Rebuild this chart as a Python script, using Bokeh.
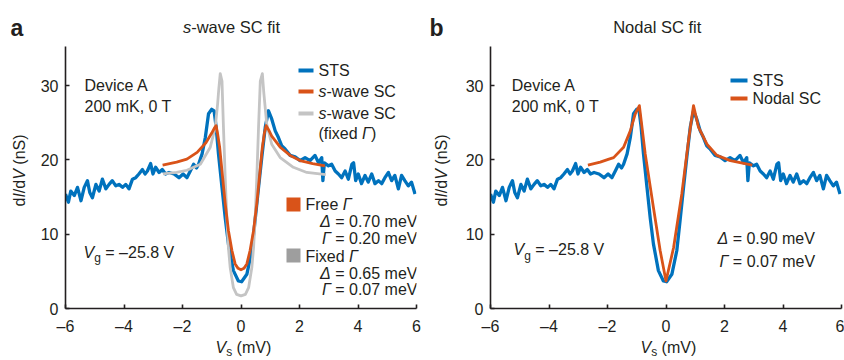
import math
from bokeh.plotting import figure
from bokeh.layouts import row, column
from bokeh.models import Label, FixedTicker
from bokeh.embed import file_html
from bokeh.resources import INLINE

# ---------------- data ----------------
sts_v = [-6.0, -5.9, -5.82, -5.7, -5.59, -5.47, -5.36, -5.25, -5.17, -5.08, -4.96, -4.85, -4.74, -4.62,
         -4.51, -4.4, -4.28, -4.17, -4.05, -3.94, -3.83, -3.71, -3.6, -3.49, -3.37, -3.28, -3.2, -3.09,
         -3.01, -2.92, -2.8, -2.69, -2.58, -2.46, -2.29, -2.12,
         -1.98, -1.85, -1.72, -1.62, -1.52, -1.45, -1.33, -1.22, -1.11, -1.0, -0.92, -0.85, -0.77, -0.65,
         -0.54, -0.43, -0.26, -0.09, 0.02, 0.2, 0.37, 0.48, 0.6, 0.71, 0.83, 0.94, 1.05, 1.17, 1.28, 1.39,
         1.5, 1.68, 1.85, 2.02,
         2.19, 2.36, 2.53, 2.65, 2.76, 2.8, 2.85, 2.99, 3.1, 3.22, 3.33, 3.44, 3.56, 3.67, 3.79, 3.85,
         3.92, 4.01, 4.12, 4.24, 4.35, 4.47, 4.58, 4.7, 4.81, 4.92, 5.04, 5.15, 5.26, 5.38, 5.49, 5.6,
         5.72, 5.83, 5.95]
sts_g = [15.4, 14.3, 15.8, 15.2, 16.3, 14.5, 16.3, 17.2, 15.6, 14.9, 16.7, 15.8, 17.4, 16.1,
         16.7, 17.2, 16.5, 16.7, 16.3, 16.7, 16.1, 17.4, 17.6, 18.1, 18.7, 18.1, 18.5, 19.5,
         18.1, 19.0, 18.3, 18.7, 18.1, 18.3, 18.1, 17.6,
         18.1, 17.6, 18.6, 19.4, 18.9, 19.4, 20.8, 23.0, 26.2, 26.8, 26.6, 24.4, 20.8, 16.3,
         12.2, 8.7, 5.1, 3.7, 3.6, 4.6, 7.8, 11.8, 16.3, 20.3, 24.4, 26.6, 25.5, 23.9, 23.0, 21.9,
         21.5, 20.6, 20.4, 19.9,
         20.3, 19.9, 20.6, 19.6, 20.3, 17.2, 19.6, 19.2, 19.4, 18.5, 18.1, 17.6, 18.5, 17.4, 19.4, 19.6,
         17.2, 18.1, 16.8, 17.9, 17.0, 18.1, 16.8, 17.2, 16.8, 17.6, 18.3, 17.2, 17.9, 16.1, 17.9, 17.2,
         16.5, 17.0, 15.4]

swave_v = [-2.68, -2.2, -1.85, -1.5, -1.2, -1.0, -0.92, -0.85, -0.8, -0.73, -0.65, -0.54, -0.43, -0.31,
           -0.2, -0.1, 0.0, 0.1, 0.2, 0.31, 0.43, 0.54, 0.65, 0.73, 0.8, 0.86, 0.95, 1.05, 1.34, 1.68,
           2.02, 2.45, 2.87]
swave_g = [19.3, 19.7, 20.1, 21.0, 22.3, 23.6, 24.2, 24.6, 23.5, 21.7, 18.5, 14.1, 10.5, 7.8,
           6.0, 5.4, 5.2, 5.4, 6.0, 7.8, 10.5, 14.1, 18.5, 21.7, 23.6, 24.6, 24.0, 23.2, 21.7, 20.6,
           19.9, 19.5, 19.2]

fixed_v = [-2.67, -2.2, -1.85, -1.39, -1.05, -0.88, -0.8, -0.76, -0.71, -0.65, -0.6, -0.54, -0.48, -0.43,
           -0.37, -0.26, -0.15, 0.0, 0.15, 0.26, 0.37, 0.43, 0.48, 0.54, 0.6, 0.66, 0.73, 0.78, 0.88,
           1.05, 1.34, 1.79, 2.25, 2.9]
fixed_g = [18.1, 18.3, 18.6, 19.4, 21.7, 24.4, 27.5, 29.5, 31.6, 30.6, 24.4, 17.6, 11.8, 8.2,
           5.5, 2.8, 1.9, 1.7, 1.9, 2.8, 5.5, 8.2, 11.8, 17.6, 24.4, 30.6, 31.6, 29.0, 24.8,
           22.1, 20.3, 19.0, 18.3, 18.0]

nodal_v = [-2.67, -2.25, -1.95, -1.79, -1.45, -1.22, -1.05, -0.91, -0.71, -0.43, -0.2, 0.0, 0.26,
           0.54, 0.77, 0.94, 1.11, 1.4, 1.74, 2.2, 2.95]
nodal_g = [19.3, 19.7, 20.1, 20.3, 21.7, 23.9, 26.2, 27.3, 20.8, 13.6, 7.8, 3.7, 8.2,
           15.4, 22.6, 27.3, 24.4, 22.1, 20.6, 19.9, 19.3]

x_ticks = [-6, -4, -2, 0, 2, 4, 6]
x_tick_labels = ["–6", "–4", "–2", "0", "2", "4", "6"]
y_ticks = [0, 10, 20, 30]

# ---------------- style ----------------
FONT = "Liberation Sans"
INK = "#231f20"
BLUE = "#0072bd"
ORANGE = "#d95319"
GRAY = "#c4c4c4"
GRAY_SW = "#9e9e9e"
FS = 16
TFS = 16.5

TOP_H = 46          # strip above the frame
FRAME_H = 262
MAIN_BOTTOM = 30    # room for the x tick labels
BOT_H = 360 - TOP_H - FRAME_H - MAIN_BOTTOM
FRAME_W = 351
MAIN_LEFT = 35      # room for the y tick labels
YMAX = 35.25

W = {' ': 278, '(': 333, ')': 333, ',': 278, '-': 333, '.': 278, '/': 278, '=': 584, '–': 556,
     'A': 667, 'C': 722, 'D': 722, 'F': 611, 'I': 278, 'K': 667, 'N': 722, 'S': 667, 'T': 611,
     'V': 667, 'a': 556, 'b': 556, 'c': 500, 'd': 556, 'e': 556, 'f': 278, 'g': 556, 'i': 222,
     'k': 500, 'l': 222, 'm': 833, 'n': 556, 'o': 556, 'r': 333, 's': 500, 't': 278, 'v': 500,
     'w': 722, 'x': 500, 'Γ': 556, 'Δ': 668}


def tw(s, size):
    return sum(W.get(c, 556) for c in s) * size / 1000.0


def strip(w, h):
    p = figure(width=w, height=h, x_range=(0, w), y_range=(0, h),
               min_border_left=0, min_border_right=0, min_border_top=0, min_border_bottom=0,
               x_axis_type=None, y_axis_type=None, output_backend="svg",
               toolbar_location=None, outline_line_color=None, border_fill_color="white",
               background_fill_color="white")
    return p


def main_fig(w):
    p = figure(width=w, height=FRAME_H + MAIN_BOTTOM, x_range=(-6, 6), y_range=(0, YMAX),
               min_border_left=MAIN_LEFT, min_border_right=w - MAIN_LEFT - FRAME_W,
               min_border_top=0, min_border_bottom=MAIN_BOTTOM,
               output_backend="svg", toolbar_location=None, outline_line_color=None,
               background_fill_color=None, border_fill_color="white")
    p.xgrid.visible = False
    p.ygrid.visible = False
    for ax in (p.xaxis[0], p.yaxis[0]):
        ax.axis_line_width = 1.6
        ax.axis_line_color = INK
        ax.major_tick_line_color = INK
        ax.major_tick_line_width = 1.6
        ax.major_tick_in = 4
        ax.major_tick_out = 0
        ax.minor_tick_line_color = None
        ax.major_label_text_font = FONT
        ax.major_label_text_font_size = f"{FS}px"
        ax.major_label_text_color = INK
    p.xaxis.ticker = FixedTicker(ticks=x_ticks)
    p.xaxis.major_label_overrides = dict(zip(x_ticks, x_tick_labels))
    p.xaxis.major_label_standoff = 9
    p.yaxis.ticker = FixedTicker(ticks=y_ticks)
    p.yaxis.major_label_standoff = 7
    return p


class Panel:
    """Holds a figure and its page-pixel origin."""
    def __init__(self, p, ox, oy):
        self.p, self.ox, self.oy = p, ox, oy


def lab(f, px, py, t, s, st, baseline="middle", angle=0.0):
    f.p.add_layout(Label(x=px - f.ox, y=py - f.oy, x_units="canvas", y_units="canvas", text=t,
                         text_font=FONT, text_font_size=f"{s}px", text_font_style=st,
                         text_color=INK, text_align="left", text_baseline=baseline, angle=angle))


def runs(f, px, py, items, align="left", baseline="middle"):
    """items: list of (text, size, style, dy); px, py in page pixels (top-left origin)"""
    total = sum(tw(t, s) for t, s, st, dy in items)
    if align == "right":
        px = px - total
    elif align == "center":
        px = px - total / 2.0
    x = px
    for t, s, st, dy in items:
        lead = len(t) - len(t.lstrip(" "))
        if t.strip():
            lab(f, x + tw(" " * lead, s), py + dy, t.strip(" "), s, st, baseline)
        x += tw(t, s)


def vrun(f, px, py_bottom, items):
    y = py_bottom
    for t, s, st in items:
        lead = len(t) - len(t.lstrip(" "))
        lab(f, px, y - tw(" " * lead, s), t.strip(" "), s, st, "middle", math.pi / 2)
        y -= tw(t, s)


def to_data(f, px, py):
    fl = f.ox + MAIN_LEFT
    return (-6 + (px - fl) * 12.0 / FRAME_W, (TOP_H + FRAME_H - py) * YMAX / FRAME_H)


def seg(f, px0, px1, py, color, w):
    x0, y0 = to_data(f, px0, py)
    x1, _ = to_data(f, px1, py)
    f.p.segment(x0=[x0], y0=[y0], x1=[x1], y1=[y0], line_color=color, line_width=w)


def swatch(f, px, py, color):
    x, y = to_data(f, px, py)
    f.p.scatter(x=[x], y=[y], marker="square", size=14, fill_color=color, line_color=None)


YLAB = [("d", FS, "normal"), ("I", FS, "italic"), ("/d", FS, "normal"),
        ("V", FS, "italic"), (" (nS)", FS, "normal")]
XLAB = [("V", FS, "italic", 0), ("s", 12, "normal", 4.5), (" (mV)", FS, "normal", 0)]
VG = [("V", FS, "italic", 0), ("g", 12, "normal", 6), (" = –25.8 V", FS, "normal", 0)]


def build_panel(x0, left_w, letter, title_items, title_cx):
    rest_w = 422 - left_w
    ls = Panel(strip(left_w, 360), x0, 0)
    ts = Panel(strip(rest_w, TOP_H), x0 + left_w, 0)
    mf = Panel(main_fig(rest_w), x0 + left_w, TOP_H)
    bs = Panel(strip(rest_w, BOT_H), x0 + left_w, TOP_H + FRAME_H + MAIN_BOTTOM)
    runs(ls, x0 + 10 - (3 if letter == "b" else 0), 27, [(letter, 23, "bold", 0)], baseline="alphabetic")
    vrun(ls, x0 + 19, 206, YLAB)
    runs(ts, title_cx, 26.5, title_items, align="center")
    runs(bs, x0 + left_w + MAIN_LEFT + FRAME_W / 2.0 - 25.5, 346.5, XLAB)
    lay = row(ls.p, column(ts.p, mf.p, bs.p, spacing=0), spacing=0)
    return mf, lay


# ---------------- panel a ----------------
fa, lay_a = build_panel(0, 30, "a", [("s", TFS, "italic", 0), ("-wave SC fit", TFS, "normal", 0)], 231)
pa = fa.p
pa.line(sts_v, sts_g, line_color=BLUE, line_width=3.3, line_join="round")
pa.line(fixed_v, fixed_g, line_color=GRAY, line_width=2.8, line_join="round")
pa.line(swave_v, swave_g, line_color=ORANGE, line_width=2.8, line_join="round")

runs(fa, 84, 84.7, [("Device A", FS, "normal", 0)])
runs(fa, 84, 106, [("200 mK, 0 T", FS, "normal", 0)])
runs(fa, 83, 251.5, VG)

seg(fa, 298, 313, 70, BLUE, 4)
runs(fa, 318, 70, [("STS", FS, "normal", 0)])
seg(fa, 298, 313, 91, ORANGE, 4)
runs(fa, 318, 91, [("s", FS, "italic", 0), ("-wave SC", FS, "normal", 0)])
seg(fa, 298, 313, 113, GRAY, 4)
runs(fa, 318, 113, [("s", FS, "italic", 0), ("-wave SC", FS, "normal", 0)])
runs(fa, 318, 133, [("(fixed ", FS, "normal", 0), ("Γ", FS, "italic", 0), (")", FS, "normal", 0)])

swatch(fa, 293, 204, ORANGE)
runs(fa, 305, 204, [("Free ", FS, "normal", 0), ("Γ", FS, "italic", 0)])
runs(fa, 417, 220.5, [("Δ", FS, "italic", 0), (" = 0.70 meV", FS, "normal", 0)], align="right")
runs(fa, 417, 238.3, [("Γ", FS, "italic", 0), (" = 0.20 meV", FS, "normal", 0)], align="right")
swatch(fa, 293, 255, GRAY_SW)
runs(fa, 305, 256, [("Fixed ", FS, "normal", 0), ("Γ", FS, "italic", 0)])
runs(fa, 417, 273, [("Δ", FS, "italic", 0), (" = 0.65 meV", FS, "normal", 0)], align="right")
runs(fa, 417, 289, [("Γ", FS, "italic", 0), (" = 0.07 meV", FS, "normal", 0)], align="right")

# ---------------- panel b ----------------
fb, lay_b = build_panel(422, 33, "b", [("Nodal SC fit", TFS, "normal", 0)], 656.7)
pb = fb.p
pb.line(sts_v, sts_g, line_color=BLUE, line_width=3.3, line_join="round")
pb.line(nodal_v, nodal_g, line_color=ORANGE, line_width=2.8, line_join="round")

runs(fb, 511.3, 84.7, [("Device A", FS, "normal", 0)])
runs(fb, 511.3, 106, [("200 mK, 0 T", FS, "normal", 0)])
runs(fb, 513, 249.3, VG)
runs(fb, 717, 237.5, [("Δ", FS, "italic", 0), (" = 0.90 meV", FS, "normal", 0)])
runs(fb, 719, 260.5, [("Γ", FS, "italic", 0), (" = 0.07 meV", FS, "normal", 0)])

seg(fb, 730, 747, 80, BLUE, 4)
runs(fb, 752, 80, [("STS", FS, "normal", 0)])
seg(fb, 730, 747, 98, ORANGE, 4)
runs(fb, 752, 98, [("Nodal SC", FS, "normal", 0)])

layout = row(lay_a, lay_b, spacing=0)
open("out.html", "w").write(file_html(layout, INLINE))
